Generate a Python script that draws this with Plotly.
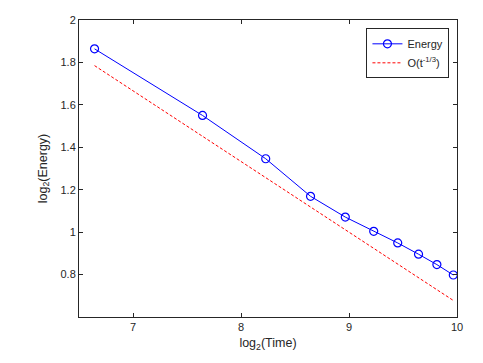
import numpy as np
import plotly.graph_objects as go

# time samples and measured log2(energy)
time = [100, 200, 300, 400, 500, 600, 700, 800, 900, 1000]
log2_energy = [1.864, 1.550, 1.346, 1.169, 1.071, 1.004, 0.949, 0.896, 0.847, 0.798]
# reference slope line O(t^-1/3)
ref_line = [1.785, 1.452, 1.257, 1.119, 1.011, 0.924, 0.850, 0.785, 0.729, 0.678]

x_ticks = [7, 8, 9, 10]
y_ticks = [0.8, 1, 1.2, 1.4, 1.6, 1.8, 2]

log2_time = np.log2(time)

FONT = "Liberation Sans, Arial"
INK = "#262626"

fig = go.Figure()

fig.add_trace(go.Scatter(
    x=log2_time, y=log2_energy, mode="lines+markers",
    line=dict(color="#0000ff", width=1),
    marker=dict(symbol="circle-open", size=8, color="#0000ff", line=dict(width=1.2)),
    name="Energy",
))
fig.add_trace(go.Scatter(
    x=log2_time, y=ref_line, mode="lines",
    line=dict(color="#ff0000", width=1, dash="3px,2px"),
    name="O(t<sup>-1/3</sup>)",
))

axis_style = dict(
    showgrid=False, zeroline=False, showline=True, linecolor=INK, linewidth=1,
    mirror="ticks", ticks="inside", ticklen=4, tickcolor=INK, automargin=False,
    tickfont=dict(family=FONT, size=11, color=INK),
)

fig.update_xaxes(
    range=[6.5, 10], tickvals=x_ticks,
    title=dict(text="log<sub>2</sub>(Time)", font=dict(family=FONT, size=12.5, color=INK), standoff=6),
    **axis_style,
)
fig.update_yaxes(
    range=[0.6, 2], tickvals=y_ticks, ticktext=[str(v) for v in y_ticks],
    title=dict(text="log<sub>2</sub>(Energy)", font=dict(family=FONT, size=12.5, color=INK), standoff=10),
    **axis_style,
)

# page body adds an 8px offset, so the figure is 8px smaller and shifted
fig.update_layout(
    width=475, height=355,
    margin=dict(l=71, r=26, t=12, b=46, autoexpand=False),
    plot_bgcolor="white", paper_bgcolor="white",
    showlegend=True,
    legend=dict(
        x=0.98, y=0.972, xanchor="right", yanchor="top",
        bordercolor=INK, borderwidth=1, bgcolor="white",
        font=dict(family=FONT, size=11, color=INK),
        tracegroupgap=0, itemwidth=30,
    ),
)

fig.write_html("out.html")
